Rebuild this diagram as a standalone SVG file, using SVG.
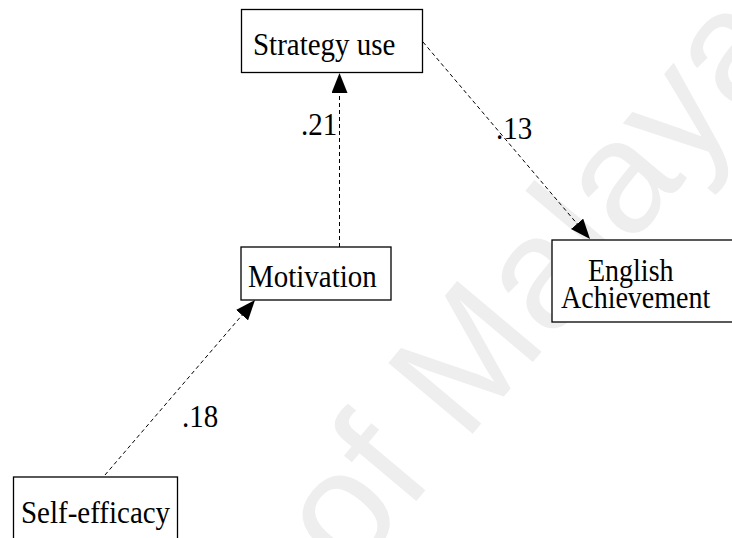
<svg xmlns="http://www.w3.org/2000/svg" width="732" height="538" viewBox="0 0 732 538">
  <style>
    .box { fill: #ffffff; stroke: #000000; stroke-width: 1.3; }
    .lbl { font-family: "Liberation Serif", "Times New Roman", serif; font-size: 29px; fill: #000000; }
    .sm { font-size: 28px; }
    .path { fill: none; stroke: #000000; stroke-width: 1; stroke-dasharray: 4 3; marker-end: url(#head); }
    .mark { font-family: "Liberation Sans", Arial, sans-serif; font-size: 160px; fill: #eeeeee; }
  </style>
  <defs>
    <marker id="head" markerUnits="userSpaceOnUse" markerWidth="20" markerHeight="16" refX="20" refY="8" orient="auto">
      <path d="M0,0 L20,8 L0,16 Z" fill="#000000"/>
    </marker>
  </defs>

  <rect width="732" height="538" fill="#ffffff"/>

  <!-- faint background watermark -->
  <text class="mark" transform="translate(350,580) rotate(-50)">of Malaya</text>

  <!-- connectors -->
  <g id="connectors">
    <line class="path" x1="105" y1="475" x2="255" y2="300"/>
    <line class="path" x1="339.5" y1="247" x2="339.5" y2="73"/>
    <line class="path" x1="423" y1="42" x2="590" y2="239"/>
    <text class="lbl" transform="translate(182,427) scale(1,1.12)">.18</text>
    <text class="lbl" transform="translate(301,135) scale(1,1.12)">.21</text>
    <text class="lbl" transform="translate(496,139) scale(1,1.12)">.13</text>
  </g>

  <g id="strategy-use">
    <rect class="box" x="241.5" y="9.5" width="181" height="63"/>
    <text class="lbl" transform="translate(253,55) scale(1,1.12)">Strategy use</text>
  </g>

  <g id="motivation">
    <rect class="box" x="241" y="247" width="150" height="53"/>
    <text class="lbl" transform="translate(248,287) scale(1,1.12)">Motivation</text>
  </g>

  <g id="english-achievement">
    <rect class="box" x="552" y="240" width="182" height="82"/>
    <text class="lbl sm" transform="translate(588,281) scale(1,1.12)">English</text>
    <text class="lbl sm" transform="translate(561,308) scale(1,1.12)">Achievement</text>
  </g>

  <g id="self-efficacy">
    <rect class="box" x="13.5" y="477" width="164" height="70"/>
    <text class="lbl" transform="translate(21,523) scale(1,1.12)">Self-efficacy</text>
  </g>
</svg>
